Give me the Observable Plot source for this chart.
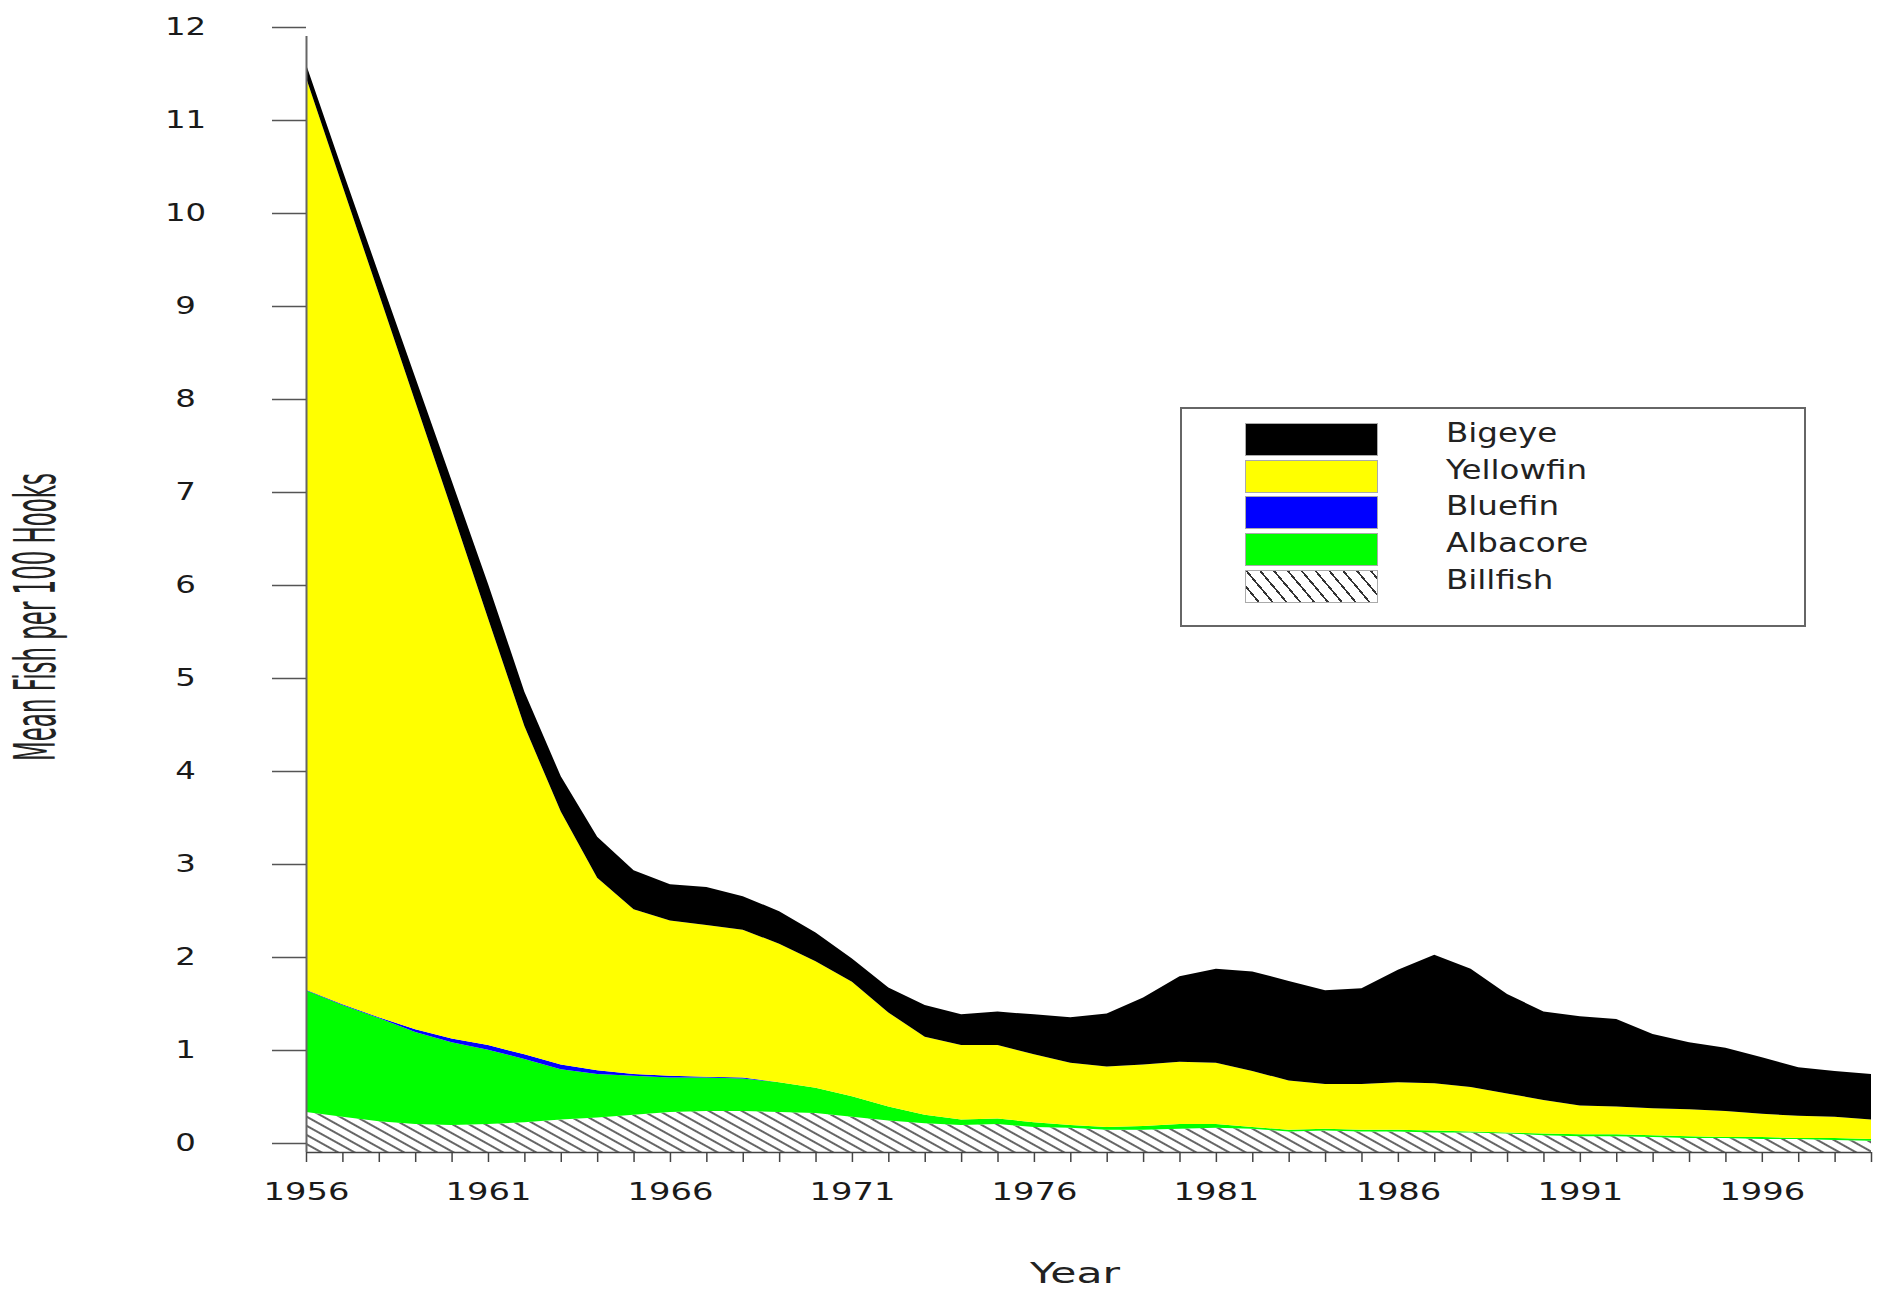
<!DOCTYPE html>
<html>
<head>
<meta charset="utf-8">
<script src="https://cdn.jsdelivr.net/npm/d3@7"></script>
<script src="https://cdn.jsdelivr.net/npm/@observablehq/plot@0.6"></script>
<style>
  html, body { margin: 0; padding: 0; background: #fff; overflow: hidden; }
  #wrap { position: relative; width: 1878px; height: 1292px; }
  #legend { position: absolute; left: 1180px; top: 407px; width: 626px; height: 220px;
            box-sizing: border-box; border: 2px solid #666; background: #fff;
            font-family: "DejaVu Sans", sans-serif; }
  .sw { position: absolute; left: 63px; width: 133px; height: 33px; box-sizing: border-box; border: 1px solid #aaa; }
  .lab { position: absolute; left: 264px; font-size: 26px; line-height: 26px; color: #222;
         transform: scaleX(1.25); transform-origin: left center; white-space: nowrap; }
</style>
</head>
<body>
<div id="wrap"></div>
<script>
// ---- data ----
const years = [1956,1957,1958,1959,1960,1961,1962,1963,1964,1965,1966,1967,1968,1969,1970,
               1971,1972,1973,1974,1975,1976,1977,1978,1979,1980,1981,1982,1983,1984,1985,
               1986,1987,1988,1989,1990,1991,1992,1993,1994,1995,1996,1997,1998,1999];
const billfish  = [0.43,0.38,0.33,0.30,0.29,0.30,0.32,0.35,0.37,0.40,0.43,0.44,0.44,0.43,0.42,
                   0.38,0.34,0.31,0.29,0.30,0.27,0.26,0.24,0.24,0.25,0.26,0.25,0.22,0.23,0.22,
                   0.22,0.21,0.21,0.20,0.18,0.17,0.17,0.16,0.15,0.15,0.14,0.14,0.13,0.12];
const albacore  = [1.31,1.20,1.11,0.99,0.89,0.80,0.68,0.54,0.47,0.42,0.37,0.36,0.35,0.32,0.27,
                   0.22,0.15,0.09,0.06,0.06,0.05,0.03,0.03,0.04,0.05,0.04,0.02,0.02,0.02,0.02,
                   0.02,0.02,0.01,0.01,0.02,0.02,0.02,0.02,0.02,0.01,0.02,0.01,0.02,0.02];
const bluefin   = [0.005,0.01,0.01,0.03,0.04,0.05,0.05,0.05,0.04,0.02,0.02,0.01,0.01,0,0,
                   0,0,0,0,0,0,0,0,0,0,0,0,0,0,0,
                   0,0,0,0,0,0,0,0,0,0,0,0,0,0];
const yellowfin = [9.81,8.80,7.78,6.75,5.69,4.59,3.53,2.72,2.07,1.77,1.67,1.63,1.59,1.49,1.36,
                   1.23,1.01,0.84,0.80,0.79,0.73,0.67,0.65,0.66,0.67,0.66,0.60,0.53,0.48,0.49,
                   0.51,0.51,0.48,0.42,0.36,0.31,0.30,0.29,0.29,0.28,0.25,0.24,0.23,0.21];
const bigeye    = [0.14,0.17,0.21,0.26,0.31,0.37,0.37,0.38,0.44,0.42,0.39,0.41,0.36,0.35,0.31,
                   0.25,0.27,0.34,0.33,0.36,0.43,0.49,0.57,0.72,0.92,1.01,1.07,1.07,1.01,1.03,
                   1.21,1.38,1.27,1.07,0.95,0.96,0.94,0.80,0.72,0.68,0.61,0.52,0.49,0.49];
const species = ["Billfish", "Albacore", "Bluefin", "Yellowfin", "Bigeye"];
const fills   = ["url(#billfishHatch)", "#00ff00", "#0000ff", "#ffff00", "#000000"];
const legendOrder = ["Bigeye", "Yellowfin", "Bluefin", "Albacore", "Billfish"];
const yTicks = [0,1,2,3,4,5,6,7,8,9,10,11,12];
const xLabelYears = [1956,1961,1966,1971,1976,1981,1986,1991,1996];
const yLabel = "Mean Fish per 100 Hooks";
const xLabel = "Year";

// ---- tidy table for Plot ----
const seriesBy = {Billfish: billfish, Albacore: albacore, Bluefin: bluefin, Yellowfin: yellowfin, Bigeye: bigeye};
const rows = years.flatMap((yr, i) => species.map(s => ({year: yr, species: s, value: seriesBy[s][i]})));

const plot = Plot.plot({
  width: 1878, height: 1292,
  marginLeft: 306, marginRight: 7, marginTop: 36, marginBottom: 140,
  style: {fontFamily: "DejaVu Sans, sans-serif", fontSize: "24px", color: "#1a1a1a", background: "#fff"},
  x: {domain: [1956, 1999]},
  y: {domain: [0, 12]},
  color: {type: "ordinal", domain: species, range: fills},
  marks: [
    Plot.areaY(rows, {x: "year", y: "value", z: "species", fill: "species", order: species}),
    Plot.ruleY([0], {stroke: "#444", strokeWidth: 1.5}),
    Plot.ruleX([1956], {stroke: "#666", strokeWidth: 2}),
    Plot.axisY({ticks: yTicks, tickSize: 34, tickPadding: 87, textAnchor: "middle", dy: -9,
                fontSize: 24, stroke: "#555", strokeWidth: 1.5, tickFormat: d => String(d), label: null}),
    Plot.axisX({ticks: years, tickSize: 10, stroke: "#444", strokeWidth: 1.5, tickFormat: () => "", label: null}),
    Plot.axisX({ticks: xLabelYears, tickSize: 0, tickPadding: 30, fontSize: 25, tickFormat: d => String(d), label: null})
  ]
});

const wrap = document.getElementById("wrap");
wrap.appendChild(plot);

// hatch pattern for billfish
const svg = d3.select(plot);
const defs = svg.insert("defs", ":first-child");
const pat = defs.append("pattern").attr("id", "billfishHatch").attr("patternUnits", "userSpaceOnUse")
  .attr("width", 8).attr("height", 8).attr("patternTransform", "rotate(29)");
pat.append("rect").attr("width", 8).attr("height", 8).attr("fill", "#fff");
pat.append("line").attr("x1", -1).attr("y1", 4).attr("x2", 9).attr("y2", 4)
  .attr("stroke", "#333").attr("stroke-width", 1.5);

// widen tick labels like the reference's stretched lettering
plot.querySelectorAll('g[aria-label$="tick label"] text').forEach(t => {
  const L = t.getComputedTextLength();
  if (L > 0) { t.setAttribute("textLength", L * 1.35); t.setAttribute("lengthAdjust", "spacingAndGlyphs"); }
});

// axis titles
svg.append("text").attr("transform", "translate(55,617) rotate(-90)")
  .attr("text-anchor", "middle").attr("font-size", 57).attr("fill", "#222")
  .attr("textLength", 288).attr("lengthAdjust", "spacingAndGlyphs").text(yLabel);
svg.append("text").attr("x", 1075).attr("y", 1283)
  .attr("text-anchor", "middle").attr("font-size", 28).attr("fill", "#222")
  .attr("textLength", 90).attr("lengthAdjust", "spacingAndGlyphs").text(xLabel);

// legend
const legend = d3.select(wrap).append("div").attr("id", "legend");
legendOrder.forEach((s, i) => {
  const top = 14 + i * 36.7;
  const fill = fills[species.indexOf(s)];
  const sw = legend.append("div").attr("class", "sw").style("top", top + "px");
  if (s === "Billfish") {
    sw.style("background", "repeating-linear-gradient(50deg, #fff 0px, #fff 8.8px, #333 8.8px, #333 10.6px)");
  } else {
    sw.style("background", fill);
  }
  legend.append("div").attr("class", "lab").style("top", (top - 3) + "px").text(s);
});
</script>
</body>
</html>
